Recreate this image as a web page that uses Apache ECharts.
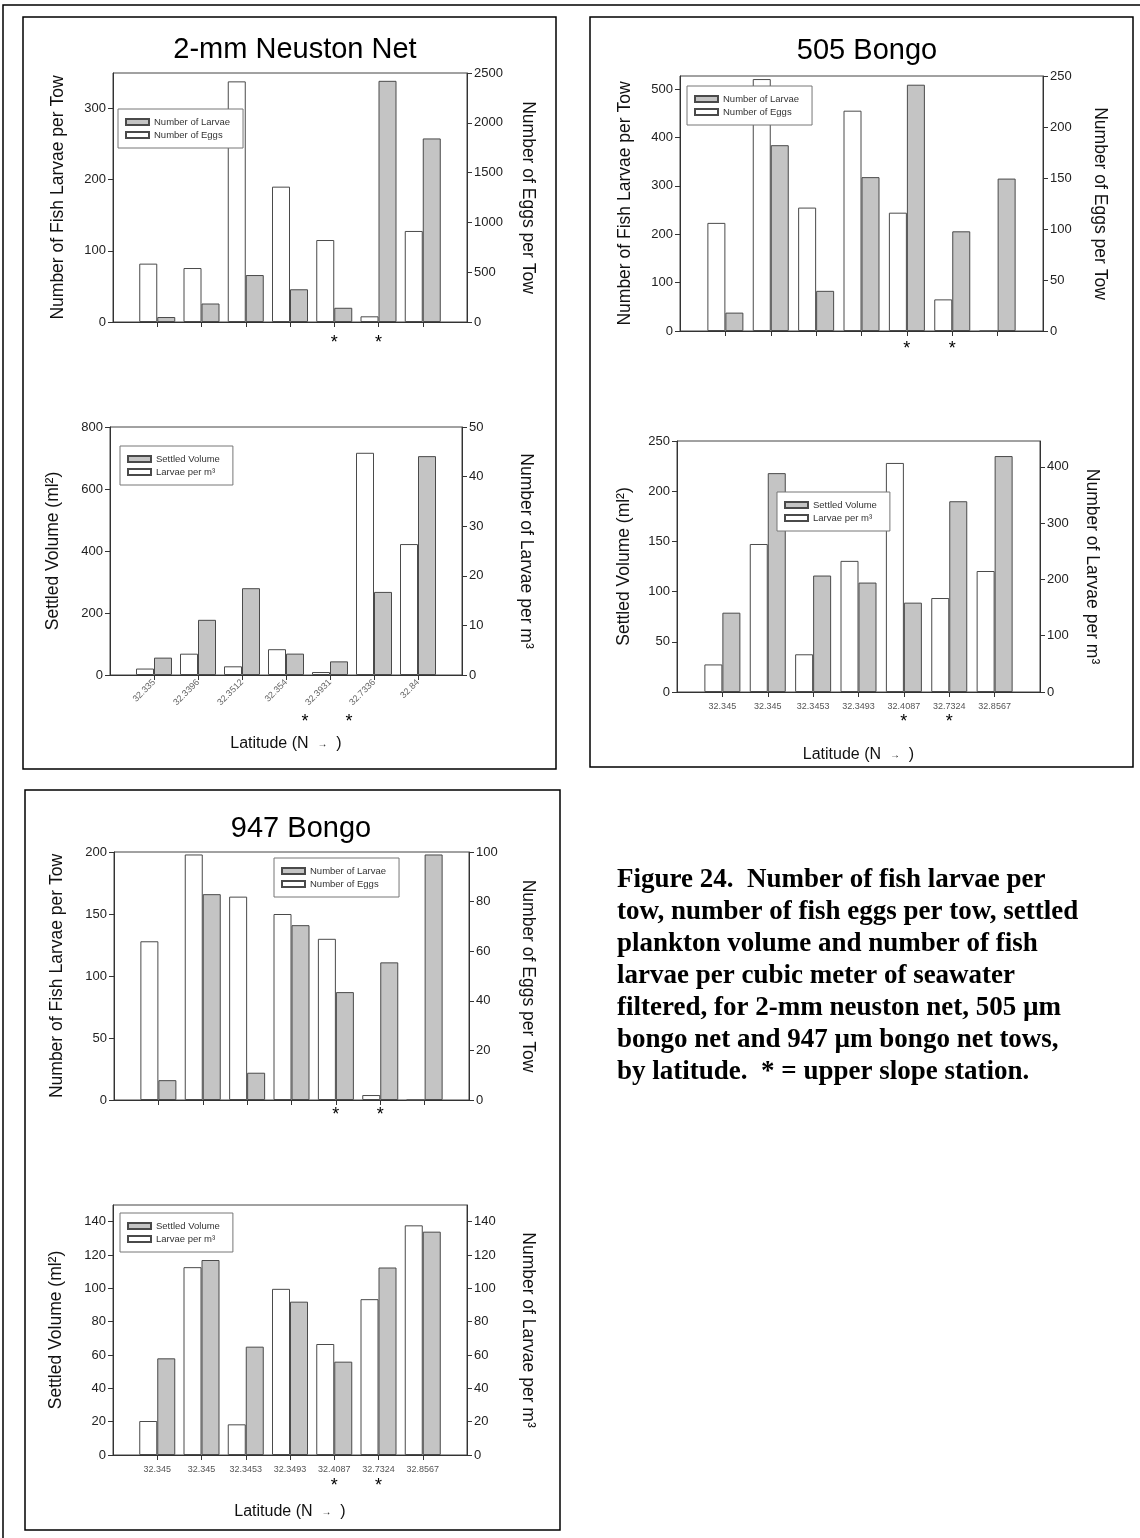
<!DOCTYPE html>
<html>
<head>
<meta charset="utf-8">
<script src="https://cdn.jsdelivr.net/npm/echarts@6/dist/echarts.min.js"></script>
<style>
  html, body { margin: 0; background: #fff; }
  #chart { width: 1140px; height: 1538px; }
</style>
</head>
<body>
<div id="chart"></div>
<script>
  // station latitudes (N), south to north
  const neustonLat = ['32.335', '32.3396', '32.3512', '32.354', '32.3931', '32.7336', '32.84'];
  const bongoLat = ['32.345', '32.345', '32.3453', '32.3493', '32.4087', '32.7324', '32.8567'];
  // upper slope stations (index into the latitude list)
  const neustonSlope = [4, 5];
  const bongoSlope = [4, 5];

  // 2-mm neuston net
  const neustonLarvae = [7, 26, 66, 46, 20, 339, 258];
  const neustonEggs = [586, 542, 2416, 1359, 823, 57, 914];
  const neustonSettled = [56, 178, 280, 69, 44, 268, 706];
  const neustonPerM3 = [1.3, 4.3, 1.75, 5.2, 0.6, 44.8, 26.4];

  // 505 bongo
  const b505Larvae = [38, 384, 83, 318, 509, 206, 315];
  const b505Eggs = [106, 247, 121, 216, 116, 31, 0];
  const b505Settled = [79, 218, 116, 109, 89, 190, 235];
  const b505PerM3 = [49, 263, 67, 233, 407, 167, 215];

  // 947 bongo
  const b947Larvae = [16, 166, 22, 141, 87, 111, 198];
  const b947Eggs = [64, 99, 82, 75, 65, 2, 0];
  const b947Settled = [58, 117, 65, 92, 56, 112.5, 134];
  const b947PerM3 = [20.4, 112.7, 18.4, 99.7, 66.6, 93.5, 137.8];

  const FONT = '"Liberation Sans", Arial, sans-serif';
  const GREY = '#c4c4c4';
  const EDGE = '#4a4a4a';
  const LATNAME = 'Latitude (N  {a|→}  )';

  const charts = [
    { // neuston, per tow
      grid: { left: 113, top: 73, width: 354, height: 249 },
      cats: neustonLat, slope: neustonSlope,
      white: { name: 'Number of Eggs', data: neustonEggs, axis: 1 },
      grey: { name: 'Number of Larvae', data: neustonLarvae, axis: 0 },
      yL: { name: 'Number of Fish Larvae per Tow', max: 350, interval: 100, gap: 46 },
      yR: { name: 'Number of Eggs per Tow', max: 2500, interval: 500, gap: 52 },
      legend: { left: 118, top: 109 },
      labels: 'none', starMargin: 12, starShift: 0
    },
    { // neuston, volume
      grid: { left: 110, top: 427, width: 352, height: 248 },
      cats: neustonLat, slope: neustonSlope,
      white: { name: 'Larvae per m³', data: neustonPerM3, axis: 1 },
      grey: { name: 'Settled Volume', data: neustonSettled, axis: 0 },
      yL: { name: 'Settled Volume (ml²)', max: 800, interval: 200, gap: 48 },
      yR: { name: 'Number of Larvae per m³', max: 50, interval: 10, gap: 55 },
      legend: { left: 120, top: 446 },
      labels: 'rotate', starMargin: 38, starShift: 25, xName: 61
    },
    { // 505, per tow
      grid: { left: 680, top: 76, width: 363, height: 255 },
      cats: bongoLat, slope: bongoSlope,
      white: { name: 'Number of Eggs', data: b505Eggs, axis: 1 },
      grey: { name: 'Number of Larvae', data: b505Larvae, axis: 0 },
      yL: { name: 'Number of Fish Larvae per Tow', max: 527, interval: 100, gap: 46 },
      yR: { name: 'Number of Eggs per Tow', max: 250, interval: 50, gap: 48 },
      legend: { left: 687, top: 86 },
      labels: 'none', starMargin: 9, starShift: 0
    },
    { // 505, volume
      grid: { left: 677, top: 441, width: 363, height: 251 },
      cats: bongoLat, slope: bongoSlope,
      white: { name: 'Larvae per m³', data: b505PerM3, axis: 1 },
      grey: { name: 'Settled Volume', data: b505Settled, axis: 0 },
      yL: { name: 'Settled Volume (ml²)', max: 250, interval: 50, gap: 44 },
      yR: { name: 'Number of Larvae per m³', max: 446, interval: 100, gap: 43 },
      legend: { left: 777, top: 492 },
      labels: 'flat', starMargin: 21, starShift: 0, xName: 55
    },
    { // 947, per tow
      grid: { left: 114, top: 852, width: 355, height: 248 },
      cats: bongoLat, slope: bongoSlope,
      white: { name: 'Number of Eggs', data: b947Eggs, axis: 1 },
      grey: { name: 'Number of Larvae', data: b947Larvae, axis: 0 },
      yL: { name: 'Number of Fish Larvae per Tow', max: 200, interval: 50, gap: 48 },
      yR: { name: 'Number of Eggs per Tow', max: 100, interval: 20, gap: 50 },
      legend: { left: 274, top: 858 },
      labels: 'none', starMargin: 6, starShift: 0
    },
    { // 947, volume
      grid: { left: 113, top: 1205, width: 354, height: 250 },
      cats: bongoLat, slope: bongoSlope,
      white: { name: 'Larvae per m³', data: b947PerM3, axis: 1 },
      grey: { name: 'Settled Volume', data: b947Settled, axis: 0 },
      yL: { name: 'Settled Volume (ml²)', max: 150, interval: 20, gap: 48 },
      yR: { name: 'Number of Larvae per m³', max: 150, interval: 20, gap: 52 },
      legend: { left: 120, top: 1213 },
      labels: 'flat', starMargin: 22, starShift: 0, xName: 49
    }
  ];

  const grid = [], xAxis = [], yAxis = [], series = [], legend = [];

  const valueAxis = (i, a, side) => ({
    gridIndex: i, type: 'value', position: side,
    min: 0, max: a.max, interval: a.interval,
    splitLine: { show: false },
    axisLine: { show: true, lineStyle: { color: '#333' } },
    axisTick: { show: true, length: 5, lineStyle: { color: '#333' } },
    axisLabel: {
      fontSize: 13, color: '#222', fontFamily: FONT, margin: 7,
      showMaxLabel: a.max % a.interval === 0,
      formatter: (v) => String(v)
    },
    name: a.name, nameLocation: 'middle', nameGap: a.gap,
    nameRotate: side === 'left' ? 90 : -90,
    nameTextStyle: { fontSize: 17.5, color: '#111', fontFamily: FONT }
  });

  charts.forEach((c, i) => {
    const cats = ['', ...c.cats, ''];
    const pad = (arr) => ['-', ...arr, '-'];

    grid.push({ ...c.grid, show: true, borderColor: '#444', borderWidth: 1 });

    let label = { show: false };
    if (c.labels === 'rotate') {
      label = { interval: 0, rotate: 45, fontSize: 9, color: '#666', fontFamily: FONT, margin: 6 };
    } else if (c.labels === 'flat') {
      label = { interval: 0, fontSize: 9, color: '#555', fontFamily: FONT, margin: 10 };
    }

    xAxis.push({
      gridIndex: i, type: 'category', boundaryGap: false, data: cats, position: 'bottom',
      axisLine: { lineStyle: { color: '#333' } },
      axisTick: { length: 5, interval: (idx) => idx > 0 && idx < cats.length - 1, lineStyle: { color: '#333' } },
      axisLabel: label,
      name: c.xName ? LATNAME : '', nameLocation: 'middle', nameGap: c.xName || 0,
      nameTextStyle: { fontSize: 16, color: '#111', fontFamily: FONT, rich: { a: { fontSize: 10, color: '#111' } } }
    });
    // second axis only carries the "*" marks for upper slope stations
    xAxis.push({
      gridIndex: i, type: 'category', boundaryGap: false, data: cats, position: 'bottom', offset: 0,
      axisLine: { show: false }, axisTick: { show: false }, splitLine: { show: false },
      axisLabel: {
        interval: 0, fontSize: 18, color: '#000', fontFamily: FONT, margin: c.starMargin,
        padding: [0, c.starShift * 2, 0, 0],
        formatter: (v, idx) => c.slope.includes(idx - 1) ? '*' : ''
      }
    });

    yAxis.push(valueAxis(i, c.yL, 'left'));
    yAxis.push(valueAxis(i, c.yR, 'right'));

    series.push({
      type: 'bar', name: c.white.name, xAxisIndex: 2 * i, yAxisIndex: 2 * i + c.white.axis,
      data: pad(c.white.data), barWidth: 18, barGap: '0%',
      itemStyle: { color: '#fff', borderColor: EDGE, borderWidth: 1 }
    });
    series.push({
      type: 'bar', name: c.grey.name, xAxisIndex: 2 * i, yAxisIndex: 2 * i + c.grey.axis,
      data: pad(c.grey.data), barWidth: 18, barGap: '0%',
      itemStyle: { color: GREY, borderColor: EDGE, borderWidth: 1 }
    });

    legend.push({
      left: c.legend.left, top: c.legend.top, orient: 'vertical',
      data: [c.grey.name, c.white.name], icon: 'rect', selectedMode: false,
      itemWidth: 23, itemHeight: 6, itemGap: 3, padding: [8, 13, 8, 7],
      borderColor: '#777', borderWidth: 1, backgroundColor: '#fff',
      textStyle: { fontSize: 9.5, color: '#333', fontFamily: FONT }
    });
  });

  const titleStyle = { fontSize: 29, fontWeight: 'normal', color: '#000', fontFamily: FONT };

  const caption = [
    'Figure 24.  Number of fish larvae per',
    'tow, number of fish eggs per tow, settled',
    'plankton volume and number of fish',
    'larvae per cubic meter of seawater',
    'filtered, for 2-mm neuston net, 505 µm',
    'bongo net and 947 µm bongo net tows,',
    'by latitude.  * = upper slope station.'
  ];

  const frame = (x, y, w, h) => ({
    type: 'rect', shape: { x, y, width: w, height: h }, silent: true,
    style: { fill: 'none', stroke: '#000', lineWidth: 1.5 }
  });

  const chart = echarts.init(document.getElementById('chart'));
  chart.setOption({
    animation: false,
    backgroundColor: '#fff',
    title: [
      { text: '2-mm Neuston Net', left: 290, top: 30, textAlign: 'center', textStyle: titleStyle },
      { text: '505 Bongo', left: 862, top: 31, textAlign: 'center', textStyle: titleStyle },
      { text: '947 Bongo', left: 296, top: 809, textAlign: 'center', textStyle: titleStyle }
    ],
    grid, xAxis, yAxis, series, legend,
    graphic: [
      frame(3, 5, 1150, 1550),
      frame(23, 17, 533, 752),
      frame(590, 17, 543, 750),
      frame(25, 790, 535, 740),
      {
        type: 'text', left: 617, top: 864, silent: true,
        style: {
          text: caption.join('\n'), fill: '#000',
          font: 'bold 27px "Liberation Serif", "Times New Roman", serif',
          lineHeight: 32
        }
      }
    ]
  });
</script>
</body>
</html>
